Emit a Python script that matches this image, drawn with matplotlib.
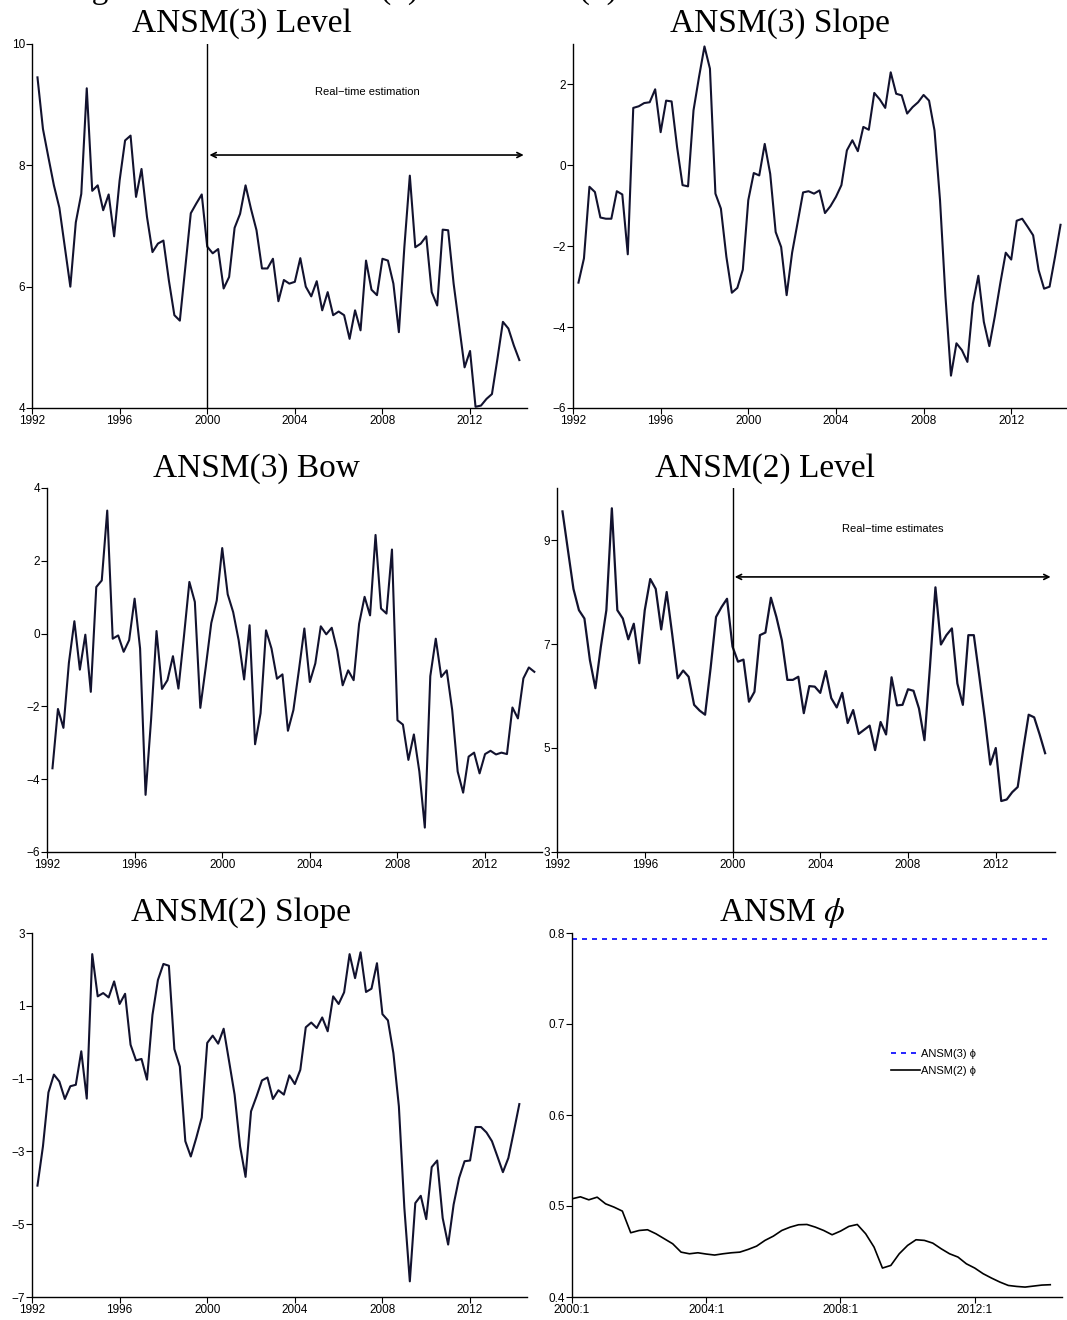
import numpy as np
import matplotlib
matplotlib.use('Agg')
import matplotlib.pyplot as plt

plt.rcParams['font.family'] = ['Liberation Sans', 'DejaVu Sans']
plt.rcParams['mathtext.fontset'] = 'stix'

# ---- data, quarterly 1992Q2 .. 2014Q2 ----
level3 = [9.45, 8.6, 8.13, 7.67, 7.3, 6.65, 6.0, 7.06, 7.53, 9.27,
          7.58, 7.67, 7.26, 7.52, 6.83, 7.75, 8.41, 8.49, 7.48, 7.94,
          7.15, 6.57, 6.71, 6.76, 6.1, 5.53, 5.44, 6.32, 7.21, 7.37,
          7.52, 6.66, 6.55, 6.62, 5.97, 6.16, 6.97, 7.2, 7.67, 7.28,
          6.93, 6.3, 6.3, 6.46, 5.76, 6.11, 6.05, 6.08, 6.47, 6.0,
          5.84, 6.09, 5.61, 5.91, 5.53, 5.59, 5.53, 5.14, 5.61, 5.28,
          6.43, 5.95, 5.86, 6.46, 6.43, 6.05, 5.25, 6.65, 7.83, 6.65,
          6.71, 6.83, 5.91, 5.69, 6.94, 6.93, 6.05, 5.36, 4.67, 4.94,
          4.02, 4.04, 4.15, 4.23, 4.81, 5.42, 5.31, 5.03, 4.79]

slope3 = [-2.90, -2.30, -0.53, -0.66, -1.29, -1.32, -1.32, -0.64, -0.72, -2.20,
          1.42, 1.46, 1.54, 1.56, 1.88, 0.82, 1.60, 1.58, 0.45, -0.49,
          -0.52, 1.36, 2.18, 2.94, 2.39, -0.70, -1.07, -2.26, -3.15, -3.03,
          -2.58, -0.86, -0.19, -0.25, 0.53, -0.21, -1.65, -2.02, -3.21, -2.16,
          -1.42, -0.67, -0.64, -0.70, -0.62, -1.18, -1.01, -0.78, -0.49, 0.37,
          0.62, 0.35, 0.95, 0.88, 1.79, 1.63, 1.42, 2.30, 1.77, 1.73,
          1.28, 1.44, 1.56, 1.74, 1.60, 0.86, -0.86, -3.25, -5.20, -4.40,
          -4.57, -4.86, -3.42, -2.73, -3.87, -4.47, -3.74, -2.92, -2.16, -2.33,
          -1.37, -1.32, -1.52, -1.73, -2.59, -3.05, -3.00, -2.26, -1.47]

bow3 = [-3.70, -2.07, -2.59, -0.80, 0.34, -0.99, -0.03, -1.60, 1.28, 1.46,
        3.38, -0.14, -0.05, -0.50, -0.18, 0.96, -0.41, -4.43, -2.38, 0.07,
        -1.52, -1.28, -0.62, -1.51, -0.09, 1.42, 0.87, -2.04, -0.91, 0.29,
        0.91, 2.35, 1.08, 0.59, -0.18, -1.26, 0.23, -3.04, -2.19, 0.09,
        -0.41, -1.24, -1.12, -2.67, -2.10, -1.01, 0.14, -1.33, -0.82, 0.20,
        -0.02, 0.16, -0.46, -1.42, -1.01, -1.28, 0.27, 1.01, 0.50, 2.71,
        0.69, 0.55, 2.31, -2.38, -2.50, -3.47, -2.77, -3.79, -5.33, -1.17,
        -0.14, -1.19, -1.01, -2.10, -3.79, -4.37, -3.38, -3.27, -3.84, -3.31,
        -3.22, -3.32, -3.27, -3.31, -2.03, -2.33, -1.23, -0.93, -1.05]

level2 = [9.55, 8.80, 8.06, 7.65, 7.49, 6.69, 6.15, 6.95, 7.65, 9.61,
          7.65, 7.49, 7.09, 7.39, 6.63, 7.65, 8.25, 8.06, 7.28, 8.00,
          7.19, 6.34, 6.49, 6.37, 5.83, 5.72, 5.64, 6.53, 7.52, 7.71,
          7.87, 6.95, 6.66, 6.70, 5.89, 6.08, 7.17, 7.22, 7.89, 7.52,
          7.07, 6.31, 6.31, 6.37, 5.67, 6.19, 6.18, 6.06, 6.48, 5.96,
          5.78, 6.06, 5.48, 5.73, 5.27, 5.35, 5.43, 4.96, 5.50, 5.26,
          6.36, 5.82, 5.83, 6.13, 6.10, 5.76, 5.15, 6.56, 8.09, 6.99,
          7.17, 7.30, 6.24, 5.83, 7.17, 7.17, 6.38, 5.57, 4.68, 5.00,
          3.98, 4.01, 4.15, 4.25, 4.97, 5.64, 5.59, 5.26, 4.90]

slope2 = [-3.94, -2.86, -1.38, -0.89, -1.08, -1.56, -1.21, -1.17, -0.25, -1.55,
          2.42, 1.26, 1.35, 1.23, 1.67, 1.05, 1.33, -0.07, -0.50, -0.46,
          -1.03, 0.75, 1.71, 2.15, 2.10, -0.19, -0.67, -2.72, -3.14, -2.63,
          -2.07, -0.02, 0.18, -0.04, 0.37, -0.53, -1.44, -2.86, -3.70, -1.90,
          -1.49, -1.05, -0.97, -1.56, -1.32, -1.44, -0.91, -1.15, -0.76, 0.41,
          0.54, 0.39, 0.68, 0.30, 1.26, 1.05, 1.37, 2.42, 1.76, 2.47,
          1.38, 1.47, 2.17, 0.77, 0.60, -0.30, -1.76, -4.55, -6.57, -4.42,
          -4.22, -4.86, -3.43, -3.25, -4.83, -5.56, -4.46, -3.73, -3.27, -3.25,
          -2.33, -2.33, -2.48, -2.72, -3.14, -3.57, -3.18, -2.45, -1.70]

# ---- phi, quarterly 2000Q1 .. 2014Q2 ----
phi3 = 0.7934
phi2 = [0.5079, 0.5101, 0.5068, 0.5097, 0.5024, 0.4988, 0.4944, 0.4706, 0.4731, 0.4739,
        0.4695, 0.4640, 0.4585, 0.4493, 0.4475, 0.4486, 0.4472, 0.4461, 0.4475, 0.4486,
        0.4493, 0.4523, 0.4559, 0.4622, 0.4669, 0.4731, 0.4768, 0.4794, 0.4797, 0.4768,
        0.4731, 0.4684, 0.4724, 0.4776, 0.4797, 0.4695, 0.4548, 0.4318, 0.4347, 0.4475,
        0.4567, 0.4629, 0.4622, 0.4592, 0.4530, 0.4475, 0.4439, 0.4365, 0.4318, 0.4256,
        0.4208, 0.4164, 0.4127, 0.4116, 0.4109, 0.4120, 0.4131, 0.4135]

dates = 1992.25 + 0.25 * np.arange(len(level3))
dates_phi = 2000.0 + 0.25 * np.arange(len(phi2))
year_ticks = [1992, 1996, 2000, 2004, 2008, 2012]

W, H = 1067, 1320
fig = plt.figure(figsize=(W / 100, H / 100), dpi=100)
LINE = '#12122e'


def make_ax(l, r, t, b):
    ax = fig.add_axes([l / W, 1 - b / H, (r - l) / W, (b - t) / H])
    for s in ['top', 'right']:
        ax.spines[s].set_visible(False)
    for s in ['left', 'bottom']:
        ax.spines[s].set_linewidth(1.0)
    ax.tick_params(direction='out', length=4, width=0.8, labelsize=8.5, pad=1)
    return ax


def title(x, y, s):
    fig.text(x / W, 1 - y / H, s, ha='center', va='baseline',
             family='Liberation Serif', fontsize=24)


# caption line above the panels, cut by the top edge (only descenders show)
fig.text(64 / W, 1 + 2 / H, 'Figure 10: State ANSM(3) and ANSM(2) estimates',
         ha='left', va='baseline', family='Liberation Serif', fontsize=24)

# ANSM(3) Level
ax = make_ax(32, 527, 44, 408)
ax.plot(dates, level3, color=LINE, lw=1.5)
ax.axvline(2000, color='black', lw=1)
ax.annotate('', xy=(2000.1, 8.17), xytext=(2014.45, 8.17),
            arrowprops=dict(arrowstyle='<->', lw=1.2, color='black',
                            shrinkA=0, shrinkB=0, mutation_scale=9))
ax.text(2007.3, 9.21, 'Real\u2212time estimation', ha='center', va='center', fontsize=8)
ax.set_xlim(1992, 2014.6)
ax.set_ylim(4, 10)
ax.set_yticks([4, 6, 8, 10])
ax.set_xticks(year_ticks)
title(242, 32, 'ANSM(3) Level')

# ANSM(3) Slope
ax = make_ax(573, 1066, 44, 408)
ax.plot(dates, slope3, color=LINE, lw=1.5)
ax.set_xlim(1992, 2014.5)
ax.set_ylim(-6, 3)
ax.set_yticks([-6, -4, -2, 0, 2])
ax.set_xticks(year_ticks)
title(780, 32, 'ANSM(3) Slope')

# ANSM(3) Bow
ax = make_ax(47, 542, 488, 852)
ax.plot(dates, bow3, color=LINE, lw=1.5)
ax.set_xlim(1992, 2014.6)
ax.set_ylim(-6, 4)
ax.set_yticks([-6, -4, -2, 0, 2, 4])
ax.set_xticks(year_ticks)
title(256, 477, 'ANSM(3) Bow')

# ANSM(2) Level
ax = make_ax(557, 1055, 488, 852)
ax.plot(dates, level2, color=LINE, lw=1.6)
ax.axvline(2000, color='black', lw=1)
ax.annotate('', xy=(2000.1, 8.29), xytext=(2014.5, 8.29),
            arrowprops=dict(arrowstyle='<->', lw=1.2, color='black',
                            shrinkA=0, shrinkB=0, mutation_scale=9))
ax.text(2007.3, 9.21, 'Real\u2212time estimates', ha='center', va='center', fontsize=8)
ax.set_xlim(1992, 2014.7)
ax.set_ylim(3, 10)
ax.set_yticks([3, 5, 7, 9])
ax.set_xticks(year_ticks)
title(765, 477, 'ANSM(2) Level')

# ANSM(2) Slope
ax = make_ax(32, 527, 933, 1297)
ax.plot(dates, slope2, color=LINE, lw=1.5)
ax.set_xlim(1992, 2014.6)
ax.set_ylim(-7, 3)
ax.set_yticks([-7, -5, -3, -1, 1, 3])
ax.set_xticks(year_ticks)
title(241, 921, 'ANSM(2) Slope')

# ANSM phi
ax = make_ax(572, 1062, 933, 1297)
ax.plot(dates_phi, [phi3] * len(dates_phi), color='blue', lw=1.2, ls=(0, (3, 3)),
        label='ANSM(3) \u03d5')
ax.plot(dates_phi, phi2, color='black', lw=1.2, label='ANSM(2) \u03d5')
ax.set_xlim(2000, 2014.6)
ax.set_ylim(0.4, 0.8)
ax.set_yticks([0.4, 0.5, 0.6, 0.7, 0.8])
ax.set_xticks([2000, 2004, 2008, 2012])
ax.set_xticklabels(['2000:1', '2004:1', '2008:1', '2012:1'])
ax.legend(loc='upper left', bbox_to_anchor=(0.651, 0.681), frameon=False, fontsize=8,
          handlelength=2.6, handletextpad=0.1, labelspacing=0.6,
          borderpad=0, borderaxespad=0)
title(782, 921, r'ANSM $\phi$')

fig.savefig('out.png', dpi=100)
